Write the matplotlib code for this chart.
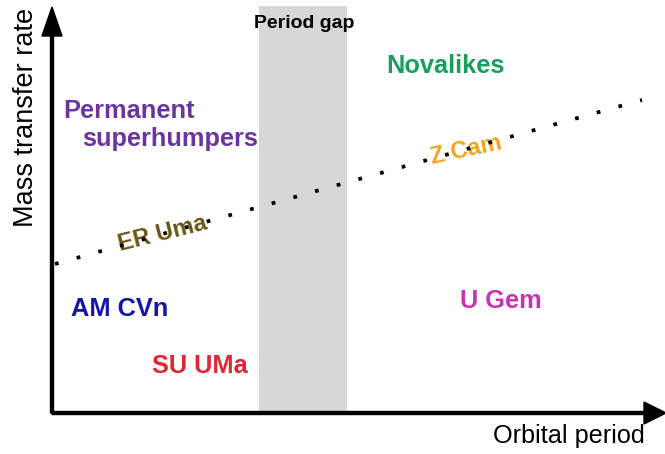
import matplotlib.pyplot as plt

plt.rcParams["font.family"] = ["Liberation Sans", "DejaVu Sans"]

# diagram coordinates: origin at the corner of the axes, 1 unit = 1 pixel
classes = ["Novalikes", "Permanent", "superhumpers", "AM CVn", "SU UMa", "U Gem"]
class_period = [393, 11, 30, 19, 100, 408]
class_rate = [340, 295, 267, 97, 40, 105]
class_colors = ["#16a05c", "#6a35a0", "#6a35a0", "#1414a8", "#e02535", "#c832b4"]
class_ha = ["center", "left", "left", "left", "left", "left"]

# rotated labels sitting on the dotted boundary
band_labels = ["ER Uma", "Z Cam"]
band_period = [111, 414]
band_rate = [179, 263]
band_colors = ["#6b5414", "#f2a51e"]
band_rotation = [14, 12]

# dotted line (critical mass transfer rate)
line_period = [3, 590]
line_rate = [149, 313]

# period gap
gap_start, gap_end = 207, 295

fig = plt.figure(figsize=(6.65, 4.54), dpi=100)
ax = fig.add_axes([52 / 665, (454 - 413) / 454, (665 - 52) / 665, 413 / 454])
ax.set_xlim(0, 613)
ax.set_ylim(0, 413)
ax.axis("off")

ax.axvspan(gap_start, gap_end, ymin=0, ymax=407 / 413, color="#d7d7d7", lw=0, zorder=0)
ax.text((gap_start + gap_end) / 2 + 1, 385, "Period gap", ha="center", va="baseline",
        fontsize=14, fontweight="bold", color="black")

for name, x, y, c, ha in zip(classes, class_period, class_rate, class_colors, class_ha):
    ax.text(x, y, name, ha=ha, va="baseline", fontsize=18.3, fontweight="bold", color=c)

for name, x, y, c, rot in zip(band_labels, band_period, band_rate, band_colors, band_rotation):
    ax.text(x, y, name, ha="center", va="center", rotation=rot, rotation_mode="anchor",
            fontsize=17, fontweight="bold", color=c, zorder=2)

ax.plot(line_period, line_rate, color="black", lw=2.7, linestyle=(0, (1, 5.0)),
        dash_capstyle="butt", zorder=3)

# axes with arrow heads
ax.arrow(0, 0, 0, 377, width=3, head_width=20, head_length=29, color="black",
         clip_on=False, zorder=4)
ax.arrow(0, 0, 592, 0, width=3, head_width=22, head_length=22, color="black",
         clip_on=False, zorder=4)

ax.text(-26, 296, "Mass transfer rate", ha="center", va="center", rotation=90,
        fontsize=19.5, color="black")
ax.text(441, -30, "Orbital period", ha="left", va="baseline", fontsize=18.2, color="black")

fig.savefig("out.png", dpi=100)
